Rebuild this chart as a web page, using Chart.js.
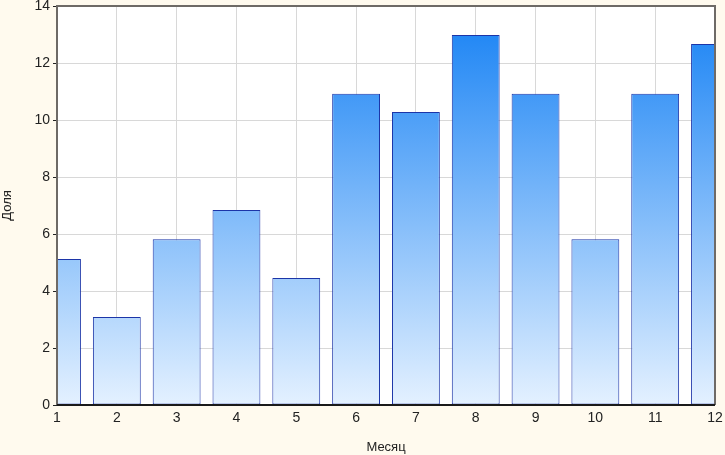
<!DOCTYPE html>
<html>
<head>
<meta charset="utf-8">
<script src="https://cdn.jsdelivr.net/npm/chart.js@4"></script>
<style>
    html, body { margin: 0; padding: 0; background: #fffaee; }
    #wrap { width: 725px; height: 455px; }
</style>
</head>
<body>
<div id="wrap"><canvas id="chart"></canvas></div>
<script>
// данные
const months = ['1', '2', '3', '4', '5', '6', '7', '8', '9', '10', '11', '12'];
const shares = [5.12, 3.09, 5.82, 6.84, 4.46, 10.92, 10.28, 12.98, 10.92, 5.82, 10.92, 12.67];
const yTicks = [0, 2, 4, 6, 8, 10, 12, 14];

// вертикальный градиент по всей области графика
function barGradient(ctx) {
    const area = ctx.chart.chartArea;
    if (!area) return '#7fbaf7';
    const g = ctx.chart.ctx.createLinearGradient(0, area.top, 0, area.bottom);
    g.addColorStop(0, '#1480f4');
    g.addColorStop(1, '#e4f1ff');
    return g;
}

// рамка области графика
const frame = {
    id: 'frame',
    beforeDraw(chart) {
        const { ctx, chartArea: a } = chart;
        ctx.save();
        ctx.fillStyle = '#ffffff';
        ctx.fillRect(a.left, a.top, a.right - a.left, a.bottom - a.top);
        ctx.restore();
    },
    afterDraw(chart) {
        const { ctx, chartArea: a } = chart;
        ctx.save();
        ctx.strokeStyle = '#6e6a66';
        ctx.lineWidth = 2;
        ctx.beginPath();
        ctx.moveTo(a.left, a.bottom);
        ctx.lineTo(a.left, a.top);
        ctx.lineTo(a.right, a.top);
        ctx.lineTo(a.right, a.bottom);
        ctx.stroke();
        ctx.strokeStyle = '#1a1a1a';
        ctx.beginPath();
        ctx.moveTo(a.left, a.bottom);
        ctx.lineTo(a.right, a.bottom);
        ctx.stroke();
        ctx.restore();
    }
};

Chart.defaults.font.family = '"Liberation Sans", Arial, sans-serif';
Chart.defaults.color = '#222222';

new Chart(document.getElementById('chart').getContext('2d'), {
    type: 'bar',
    data: {
        labels: months,
        datasets: [{
            data: shares,
            backgroundColor: barGradient,
            borderColor: '#1c35a8',
            borderWidth: 1,
            borderSkipped: false,
            categoryPercentage: 1,
            barPercentage: 0.8,
            clip: 0
        }]
    },
    options: {
        responsive: true,
        maintainAspectRatio: false,
        animation: false,
        layout: { padding: { left: 0, top: 6, right: 10, bottom: 0 } },
        plugins: {
            legend: { display: false },
            tooltip: { enabled: false }
        },
        scales: {
            x: {
                offset: false,
                grid: { color: '#d8d8d8', offset: false, drawTicks: false },
                border: { display: false },
                ticks: { font: { size: 14 }, padding: 5, maxRotation: 0, autoSkip: false },
                title: { display: true, text: 'Месяц', font: { size: 13 }, padding: { top: 2, bottom: 0 } },
                afterFit(scale) {
                    scale.height = 50;
                    scale.paddingLeft = 0;
                    scale.paddingRight = 0;
                }
            },
            y: {
                min: 0,
                max: 14,
                afterBuildTicks(scale) { scale.ticks = yTicks.map(v => ({ value: v })); },
                grid: { color: '#d8d8d8', tickLength: 4, tickColor: '#222222' },
                border: { display: false },
                ticks: { font: { size: 14 }, padding: 3 },
                title: { display: true, text: 'Доля', font: { size: 13 }, padding: { top: 0, bottom: 0 } },
                afterFit(scale) {
                    scale.width = 57;
                    scale.paddingTop = 0;
                    scale.paddingBottom = 0;
                }
            }
        }
    },
    plugins: [frame]
});
</script>
</body>
</html>
